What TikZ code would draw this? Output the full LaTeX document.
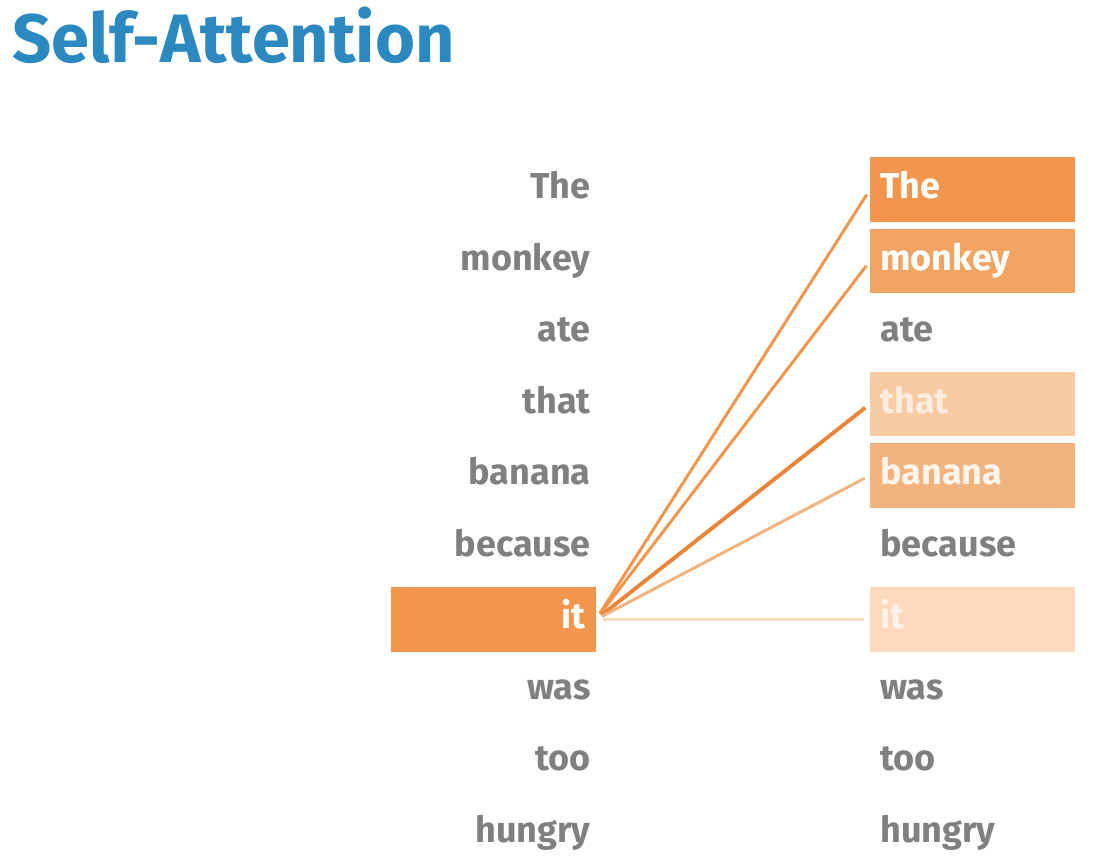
\documentclass[tikz,border=0pt]{standalone}
\usepackage{fontspec}
\setmainfont{Fira Sans}
\usepackage{tikz}
\definecolor{attnblue}{RGB}{44,137,192}
\definecolor{attngray}{RGB}{128,128,128}
\definecolor{attnorange}{RGB}{241,150,76}
\definecolor{attnmonkey}{RGB}{241,163,98}
\definecolor{attnbanana}{RGB}{242,179,127}
\definecolor{attnthat}{RGB}{246,202,163}
\definecolor{attnit}{RGB}{250,217,188}
\definecolor{attndark}{RGB}{234,132,56}

\tikzset{
  word/.style={font=\bfseries\fontsize{20.5}{24}\selectfont, text=attngray,
    text height=0.55cm, text depth=0.17cm, minimum height=1.3cm},
  leftword/.style={word, anchor=east, align=right, text width=3.9cm, inner xsep=0.1cm},
  rightword/.style={word, anchor=west, align=left, text width=3.7cm, inner xsep=0.2cm},
  hot/.style={fill=#1, text=white},
  faded/.style={fill=#1, text=white!65!#1},
  attn/.style={line width=1.7pt, shorten <=0.14cm, shorten >=0.12cm}
}

\begin{document}
\begin{tikzpicture}[x=0.02cm, y=-0.02cm]
    \useasboundingbox (0,0) rectangle (1110,864);

    % Title
    \node[anchor=base west, inner sep=0, text=attnblue,
      font=\bfseries\fontsize{39}{46}\selectfont] (title) at (12,63) {Self-Attention};

    % Left column (query words)
    \node[leftword] (lThe) at (596,189.5) {The};
    \node[leftword] (lmonkey) at (596,261) {monkey};
    \node[leftword] (late) at (596,332.5) {ate};
    \node[leftword] (lthat) at (596,404) {that};
    \node[leftword] (lbanana) at (596,475.5) {banana};
    \node[leftword] (lbecause) at (596,547) {because};
    \node[leftword, hot=attnorange, text width=3.7cm, inner xsep=0.2cm] (lit) at (596,619.5) {it};
    \node[leftword] (lwas) at (596,690) {was};
    \node[leftword] (ltoo) at (596,761.5) {too};
    \node[leftword] (lhungry) at (596,833) {hungry};

    % Right column (key words), shaded by attention weight
    \node[rightword, hot=attnorange] (rThe) at (870,189.5) {The};
    \node[rightword, hot=attnmonkey] (rmonkey) at (870,261) {monkey};
    \node[rightword] (rate) at (870,332.5) {ate};
    \node[rightword, faded=attnthat] (rthat) at (870,404) {that};
    \node[rightword, hot=attnbanana, text=white!85!attnbanana] (rbanana) at (870,475.5) {banana};
    \node[rightword] (rbecause) at (870,547) {because};
    \node[rightword, faded=attnit] (rit) at (870,619.5) {it};
    \node[rightword] (rwas) at (870,690) {was};
    \node[rightword] (rtoo) at (870,761.5) {too};
    \node[rightword] (rhungry) at (870,833) {hungry};

    % Attention lines from "it"
    \draw[attn, draw=attnorange] (lit.east) -- (rThe.west);
    \draw[attn, draw=attnorange] (lit.east) -- (rmonkey.west);
    \draw[attn, draw=attndark, line width=2.2pt] (lit.east) -- (rthat.west);
    \draw[attn, draw=attnbanana] (lit.east) -- (rbanana.west);
    \draw[attn, draw=attnit] (lit.east) -- (rit.west);
\end{tikzpicture}
\end{document}
